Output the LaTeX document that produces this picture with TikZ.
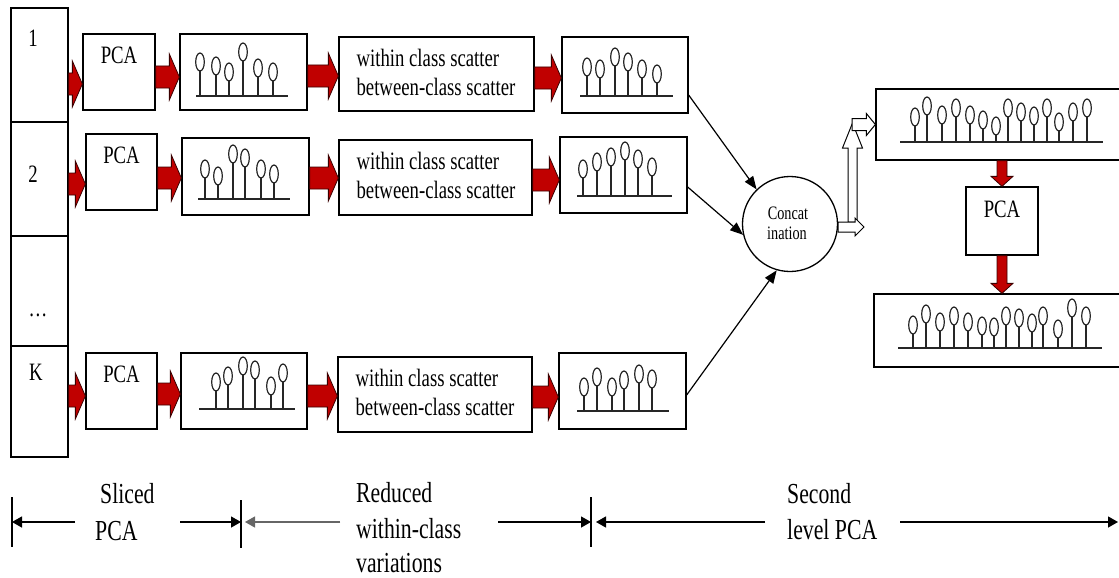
\documentclass[tikz,border=0pt]{standalone}
\usepackage{fontspec}
\setmainfont{Liberation Serif}[FakeStretch=0.75]
\usetikzlibrary{arrows.meta,calc}
\definecolor{arrred}{HTML}{C00000}
\definecolor{arredge}{HTML}{3A0000}

% block arrow from #2 to #3: body half-width #4, head half-width #5, head length #6
\newcommand\blockarrow[6][]{%
  \path[#1] let \p1=#2, \p2=#3,
      \n1={atan2(\y2-\y1,\x2-\x1)}, \n2={veclen(\x2-\x1,\y2-\y1)} in
    [shift={(\x1,\y1)}, rotate=\n1]
    (0pt,{#4*1pt}) -- ({(\n2-#6)*1pt},{#4*1pt}) -- ({(\n2-#6)*1pt},{#5*1pt})
    -- ({\n2*1pt},0pt) -- ({(\n2-#6)*1pt},{-#5*1pt}) -- ({(\n2-#6)*1pt},{-#4*1pt})
    -- (0pt,{-#4*1pt}) -- cycle;}

% row of lollipop stems: #1 baseline y, #2/#3 baseline ends, #4 list of x/top
\newcommand\stemrow[4]{%
  \draw[stemline] (#2,#1) -- (#3,#1);
  \foreach \sx/\st in {#4} {
    \draw[stemline] (\sx,#1) -- (\sx,\st+18);
    \draw[stemline] (\sx,\st+9) ellipse [x radius=4.3pt, y radius=9pt];
  }}

% rectangle node from its corners
\newcommand\boxnode[5]{%
  \node[box, minimum width={(#4-#2)*1pt}, minimum height={(#5-#3)*1pt}]
    (#1) at ({(#2+#4)/2},{(#3+#5)/2}) {};}

\begin{document}
\begin{tikzpicture}[x=1pt, y=-1pt, line join=miter,
  box/.style={draw=black, line width=1.3pt, fill=white, inner sep=0pt},
  lbl/.style={font=\fontsize{25}{30}\selectfont, inner sep=0pt},
  small/.style={font=\fontsize{19}{22}\selectfont, inner sep=0pt},
  big/.style={font=\fontsize{29}{37}\selectfont, inner sep=0pt},
  redarr/.style={fill=arrred, draw=arredge, line width=0.8pt},
  hollow/.style={fill=white, draw=black, line width=1pt},
  conn/.style={line width=1.2pt, -{Triangle[length=13pt,width=10pt]}},
  dim/.style={line width=1.3pt, -{Triangle[length=10pt,width=11pt]}},
  tick/.style={line width=1.3pt},
  stemline/.style={line width=1.2pt, draw=black!85}]

\useasboundingbox (0,0) rectangle (1119,578);
\clip (0,0) rectangle (1119,578);

% slice column
\boxnode{col}{11}{8}{68}{457}
\foreach \yy in {122,236,346}
  \draw[line width=1.3pt] (col.west |- 0,\yy) -- (col.east |- 0,\yy);
\node[lbl, anchor=base] (n1) at (33,47) {1};
\node[lbl, anchor=base] (n2) at (33,182) {2};
\node[lbl, anchor=base] (n3) at (38,316) {\ldots};
\node[lbl, anchor=base] (nk) at (36,380) {K};

% first-level boxes
\boxnode{pca1}{83}{34}{155}{110}
\boxnode{sA1}{180}{34}{307}{110}
\boxnode{sc1}{339}{37}{534}{111}
\boxnode{sB1}{562}{37}{688}{113}

\boxnode{pca2}{86}{134}{157}{210}
\boxnode{sA2}{182}{138}{309}{215}
\boxnode{sc2}{339}{140}{532}{215}
\boxnode{sB2}{560}{137}{687}{213}

\boxnode{pcaK}{86}{353}{157}{429}
\boxnode{sAK}{181}{353}{307}{429}
\boxnode{scK}{338}{357}{532}{432}
\boxnode{sBK}{559}{353}{686}{429}

\foreach \p in {pca1,pca2,pcaK}
  \node[lbl, anchor=base] (\p-t) at ($(\p.north)+(0,30)$) {PCA};
\foreach \s in {sc1,sc2,scK} {
  \node[lbl, anchor=base west] (\s-a) at ($(\s.north west)+(18,30)$) {within class scatter};
  \node[lbl, anchor=base west] (\s-b) at ($(\s.north west)+(18,59)$) {between-class scatter};
}

% red block arrows along each row
\blockarrow[redarr]{(col.east |- 0,84)}{(pca1.west |- 0,84)}{11}{23}{10}
\blockarrow[redarr]{(pca1.east |- 0,77)}{(sA1.west |- 0,77)}{11}{23}{10}
\blockarrow[redarr]{(sA1.east |- 0,76)}{(sc1.west |- 0,76)}{11}{23}{10}
\blockarrow[redarr]{(sc1.east |- 0,78)}{(sB1.west |- 0,78)}{11}{23}{10}

\blockarrow[redarr]{(col.east |- 0,184)}{(pca2.west |- 0,184)}{11}{23}{10}
\blockarrow[redarr]{(pca2.east |- 0,178)}{(sA2.west |- 0,178)}{11}{23}{10}
\blockarrow[redarr]{(sA2.east |- 0,178)}{(sc2.west |- 0,178)}{11}{23}{10}
\blockarrow[redarr]{(sc2.east |- 0,180)}{(sB2.west |- 0,180)}{11}{23}{10}

\blockarrow[redarr]{(col.east |- 0,396)}{(pcaK.west |- 0,396)}{11}{23}{10}
\blockarrow[redarr]{(pcaK.east |- 0,394)}{(sAK.west |- 0,394)}{11}{23}{10}
\blockarrow[redarr]{(sAK.east |- 0,396)}{(scK.west |- 0,396)}{11}{23}{10}
\blockarrow[redarr]{(scK.east |- 0,397)}{(sBK.west |- 0,397)}{11}{23}{10}

% stem glyphs
\stemrow{96}{196}{288}{200/53,216/57,229/63,243/43,258/59,273/63}
\stemrow{199}{198}{290}{205/160,218/167,233/145,245/149,261/160,274/165}
\stemrow{409}{199}{295}{216/373,228/367,243/357,255/361,271/377,283/364}
\stemrow{96}{580}{673}{587/58,600/60,615/48,628/53,642/60,657/65}
\stemrow{196}{577}{672}{583/160,597/153,611/148,625/142,638/150,652/158}
\stemrow{411}{577}{669}{584/378,597/368,612/378,624/371,639/365,652/370}

% concatenation
\node[circle, draw, line width=1.3pt, minimum size=95pt, inner sep=0pt] (cat) at (790,224) {};
\node[small, anchor=base] (cat-a) at (788,219) {Concat};
\node[small, anchor=base] (cat-b) at (787,239) {ination};
\draw[conn] ($(sB1.east)+(0,20)$) -- (cat.134);
\draw[conn] ($(sB2.east)+(0,12)$) -- (cat.193);
\draw[conn] ($(sBK.east)+(0,4)$) -- (cat.254);

% second level
\boxnode{tr}{876}{89}{1130}{160}
\boxnode{pca3}{966}{187}{1038}{255}
\boxnode{br}{874}{294}{1130}{367}
\node[lbl, anchor=base] (pca3-t) at ($(pca3.north)+(0,31)$) {PCA};
\stemrow{142}{900}{1103}{915/108,927/97,942/106,956/99,970/106,983/111,996/117,1008/99,1021/103,1034/107,1047/99,1059/113,1073/103,1087/99}
\stemrow{348}{898}{1102}{913/316,926/305,940/313,954/307,968/313,982/317,994/318,1006/307,1019/309,1032/314,1043/307,1058/320,1072/299,1086/307}
\blockarrow[redarr]{(1002,0 |- tr.south)}{(1002,0 |- pca3.north)}{5}{11}{10}
\blockarrow[redarr]{(1002,0 |- pca3.south)}{(1002,0 |- br.north)}{5}{11}{10}

% hollow arrows from the concatenation to the second level
\coordinate (vb) at (852.5,222);
\coordinate (vt) at (852.5,123);
\coordinate (hb) at (864,227);
\coordinate (ts) at (852,124.5);
\blockarrow[hollow]{(vb)}{(vt)}{4.5}{10}{25}
\blockarrow[hollow]{($(cat.east)+(0,3)$)}{(hb)}{5}{9}{9}
\blockarrow[hollow]{(ts)}{(tr.west)}{6}{11}{9}

% stage spans along the bottom
\coordinate (k1t) at (12,497);  \coordinate (k1b) at (12,547);
\coordinate (k2t) at (241,500); \coordinate (k2b) at (241,548);
\coordinate (k3t) at (591,497); \coordinate (k3b) at (591,547);
\draw[tick] (k1t) -- (k1b);
\draw[tick] (k2t) -- (k2b);
\draw[tick] (k3t) -- (k3b);
\coordinate (e1) at (75,522);
\coordinate (e2) at (180,522);
\coordinate (e3) at (340,522);
\coordinate (e4) at (498,522);
\coordinate (e5) at (765,522);
\coordinate (e6) at (900,522);
\coordinate (e7) at (1118,522);
\draw[dim] (e1) -- (k1t |- e1);
\draw[dim] (e2) -- (k2t |- e2);
\draw[dim, draw=black!60, fill=black!60] (e3) -- ($(k2t |- e3)+(4,0)$);
\draw[dim] (e4) -- (k3t |- e4);
\draw[dim] (e5) -- ($(k3t |- e5)+(5,0)$);
\draw[dim] (e6) -- (e7);

\node[big, anchor=base west] (l1a) at (100,503) {Sliced};
\node[big, anchor=base west] (l1b) at (95,540) {PCA};
\node[big, anchor=base west] (l2a) at (356,502) {Reduced};
\node[big, anchor=base west] (l2b) at (356,538) {within-class};
\node[big, anchor=base west] (l2c) at (356,572) {variations};
\node[big, anchor=base west] (l3a) at (787,503) {Second};
\node[big, anchor=base west] (l3b) at (787,539) {level PCA};
\end{tikzpicture}
\end{document}
